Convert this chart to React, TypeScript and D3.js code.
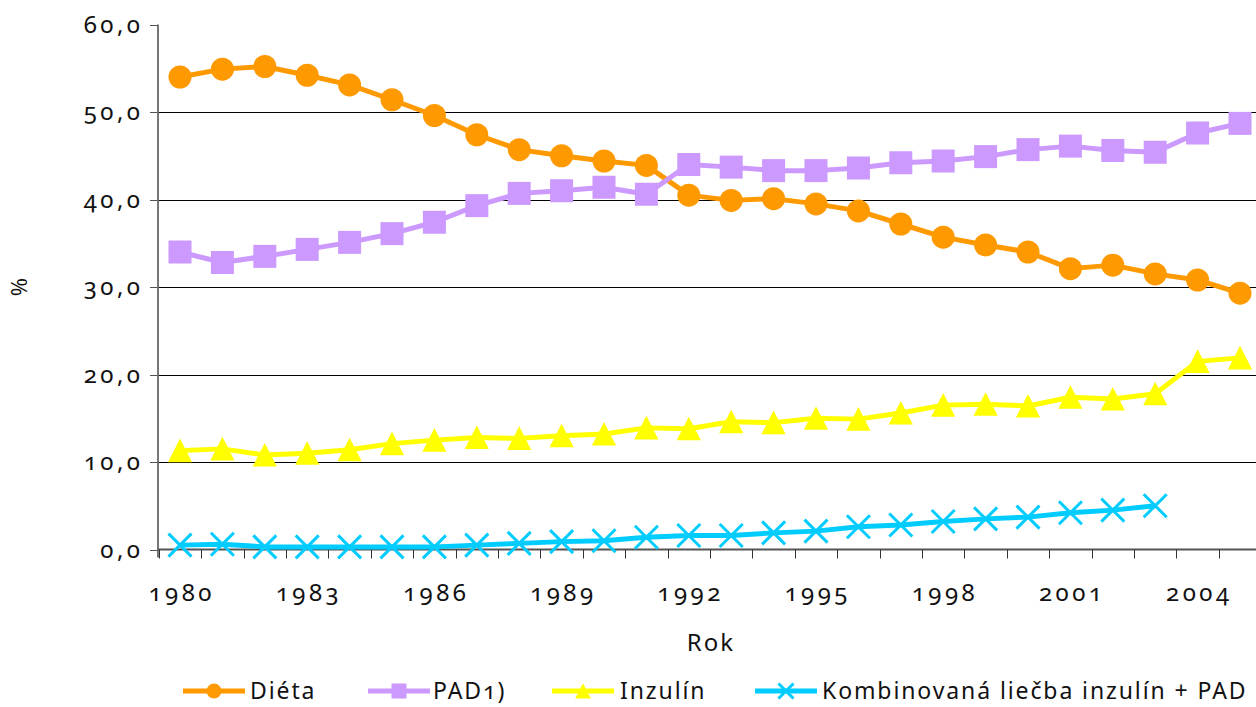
import * as d3 from "d3";
import { useEffect, useRef } from "react";

const years = [
  "1980", "1981", "1982", "1983", "1984", "1985", "1986", "1987", "1988", "1989", "1990", "1991", "1992",
  "1993", "1994", "1995", "1996", "1997", "1998", "1999", "2000", "2001", "2002", "2003", "2004", "2005",
];
const labelYears = ["1980", "1983", "1986", "1989", "1992", "1995", "1998", "2001", "2004"];
const yTicks = [0, 10, 20, 30, 40, 50, 60];

const dieta = [54.0, 54.9, 55.2, 54.2, 53.1, 51.4, 49.6, 47.4, 45.7, 45.0, 44.4, 43.9, 40.5, 39.9, 40.1, 39.5, 38.7, 37.2, 35.7, 34.8, 34.0, 32.1, 32.5, 31.5, 30.8, 29.3];
const pad = [34.0, 32.8, 33.5, 34.3, 35.1, 36.1, 37.4, 39.3, 40.7, 41.0, 41.4, 40.6, 44.0, 43.7, 43.3, 43.3, 43.6, 44.2, 44.4, 44.9, 45.7, 46.1, 45.6, 45.4, 47.6, 48.7];
const inzulin = [11.3, 11.5, 10.8, 11.0, 11.4, 12.1, 12.5, 12.8, 12.7, 13.0, 13.2, 13.9, 13.8, 14.6, 14.5, 15.0, 14.9, 15.6, 16.5, 16.6, 16.4, 17.4, 17.2, 17.8, 21.5, 21.9];
const kombinovana: (number | null)[] = [0.5, 0.6, 0.3, 0.3, 0.3, 0.3, 0.3, 0.5, 0.7, 0.9, 1.0, 1.4, 1.6, 1.6, 1.9, 2.1, 2.6, 2.8, 3.2, 3.5, 3.7, 4.2, 4.5, 5.0, null, null];

type Marker = "circle" | "square" | "triangle" | "x";
const series: { name: string; values: (number | null)[]; color: string; marker: Marker }[] = [
  { name: "Diéta", values: dieta, color: "#FF9900", marker: "circle" },
  { name: "PAD1)", values: pad, color: "#CC99FF", marker: "square" },
  { name: "Inzulín", values: inzulin, color: "#FFFF00", marker: "triangle" },
  { name: "Kombinovaná liečba inzulín + PAD", values: kombinovana, color: "#00CCFF", marker: "x" },
];

const FONT = "'Noto Sans', 'Open Sans', sans-serif";
const NUM_LS = 3.5;

function drawMarker(g: d3.Selection<SVGGElement, unknown, null, undefined>, m: Marker, cx: number, cy: number, s: number, color: string) {
  if (m === "circle") {
    g.append("circle").attr("cx", cx).attr("cy", cy).attr("r", s).attr("fill", color);
  } else if (m === "square") {
    g.append("rect").attr("x", cx - s).attr("y", cy - s).attr("width", s * 2).attr("height", s * 2).attr("fill", color);
  } else if (m === "triangle") {
    g.append("path")
      .attr("d", `M${cx},${cy - s * 1.05}L${cx + s * 1.05},${cy + s}L${cx - s * 1.05},${cy + s}Z`)
      .attr("fill", color);
  } else {
    const p = d3.path();
    p.moveTo(cx - s, cy - s);
    p.lineTo(cx + s, cy + s);
    p.moveTo(cx + s, cy - s);
    p.lineTo(cx - s, cy + s);
    g.append("path").attr("d", p.toString()).attr("stroke", color).attr("stroke-width", 3).attr("fill", "none");
  }
}

export default function App() {
  const ref = useRef<SVGSVGElement | null>(null);

  useEffect(() => {
    if (!ref.current) return;
    document.body.style.margin = "0";

    const x = d3.scaleBand().domain(years).range([158.8, 1261.2]).padding(0);
    const y = d3.scaleLinear().domain([0, 60]).range([549.5, 24.5]);
    const cx = (yr: string) => (x(yr) ?? 0) + x.bandwidth() / 2;

    const svg = d3.select(ref.current);
    svg.selectAll("*").remove();

    const locale = d3.formatLocale({ decimal: ",", thousands: " ", grouping: [3], currency: ["", ""] });
    const fmt = locale.format(".1f");

    // gridlines
    svg.append("g")
      .selectAll("line")
      .data(yTicks.filter((t) => t > 0 && t < 60))
      .join("line")
      .attr("x1", 158)
      .attr("x2", 1256)
      .attr("y1", (d) => Math.round(y(d)) + 0.5)
      .attr("y2", (d) => Math.round(y(d)) + 0.5)
      .attr("stroke", "#000")
      .attr("stroke-width", 1);

    // y axis
    const ya = svg.append("g").attr("font-family", FONT);
    ya.append("line").attr("x1", 158).attr("x2", 158).attr("y1", y(60)).attr("y2", y(0) + 8).attr("stroke", "#777").attr("stroke-width", 2);
    ya.selectAll("line.tick")
      .data(yTicks)
      .join("line")
      .attr("class", "tick")
      .attr("x1", 150)
      .attr("x2", 158)
      .attr("y1", (d) => Math.round(y(d)) + 0.5)
      .attr("y2", (d) => Math.round(y(d)) + 0.5)
      .attr("stroke", "#555");
    ya.selectAll("text")
      .data(yTicks)
      .join("text")
      .attr("x", 140 + NUM_LS)
      .attr("y", (d) => y(d) + 8)
      .attr("text-anchor", "end")
      .attr("font-size", 24)
      .attr("letter-spacing", NUM_LS)
      .style("font-variant-numeric", "oldstyle-nums")
      .attr("fill", "#111")
      .text((d) => fmt(d));
    svg.append("text")
      .attr("transform", `translate(27,287) rotate(-90)`)
      .attr("text-anchor", "middle")
      .attr("font-family", FONT)
      .attr("font-size", 22)
      .attr("fill", "#111")
      .text("%");

    // x axis
    const xa = svg.append("g").attr("font-family", FONT);
    xa.append("line").attr("x1", 158).attr("x2", 1256).attr("y1", y(0)).attr("y2", y(0)).attr("stroke", "#555").attr("stroke-width", 2);
    xa.selectAll("line.tick")
      .data(years)
      .join("line")
      .attr("class", "tick")
      .attr("x1", (d) => Math.round(x(d) ?? 0) + 0.5)
      .attr("x2", (d) => Math.round(x(d) ?? 0) + 0.5)
      .attr("y1", y(0))
      .attr("y2", y(0) + 9)
      .attr("stroke", "#333");
    xa.selectAll("text")
      .data(labelYears)
      .join("text")
      .attr("x", (d) => cx(d) + NUM_LS / 2)
      .attr("y", 601)
      .attr("text-anchor", "middle")
      .attr("font-size", 24)
      .attr("letter-spacing", NUM_LS)
      .style("font-variant-numeric", "oldstyle-nums")
      .attr("fill", "#111")
      .text((d) => d);
    svg.append("text")
      .attr("x", 711)
      .attr("y", 651)
      .attr("text-anchor", "middle")
      .attr("font-family", FONT)
      .attr("font-size", 24)
      .attr("letter-spacing", 2)
      .attr("fill", "#111")
      .text("Rok");

    // series
    const plot = svg.append("g");
    series.forEach((s) => {
      const pts = years.map((yr, i) => ({ yr, v: s.values[i] }));
      const line = d3
        .line<{ yr: string; v: number | null }>()
        .defined((d) => d.v != null)
        .x((d) => cx(d.yr))
        .y((d) => y(d.v as number));
      plot.append("path")
        .attr("d", line(pts))
        .attr("fill", "none")
        .attr("stroke", s.color)
        .attr("stroke-width", 5)
        .attr("stroke-linejoin", "round");
      const mg = plot.append("g");
      pts.filter((d) => d.v != null).forEach((d) => drawMarker(mg, s.marker, cx(d.yr), y(d.v as number), 11.5, s.color));
    });

    // legend
    const legendItems = [
      { x: 183, tx: 250 },
      { x: 368, tx: 433 },
      { x: 552, tx: 620 },
      { x: 755, tx: 822 },
    ];
    const lg = svg.append("g").attr("font-family", FONT);
    series.forEach((s, i) => {
      const it = legendItems[i];
      const ly = 691;
      lg.append("line").attr("x1", it.x).attr("x2", it.x + 62).attr("y1", ly).attr("y2", ly).attr("stroke", s.color).attr("stroke-width", 5);
      drawMarker(lg, s.marker, it.x + 31, ly, 7.5, s.color);
      lg.append("text")
        .attr("x", it.tx)
        .attr("y", ly + 8)
        .attr("font-size", 23)
        .attr("letter-spacing", 1.9)
        .style("font-variant-numeric", "oldstyle-nums")
        .attr("fill", "#111")
        .text(s.name);
    });
  }, []);

  return <svg ref={ref} width={1256} height={707} style={{ display: "block", background: "#fff" }} />;
}
